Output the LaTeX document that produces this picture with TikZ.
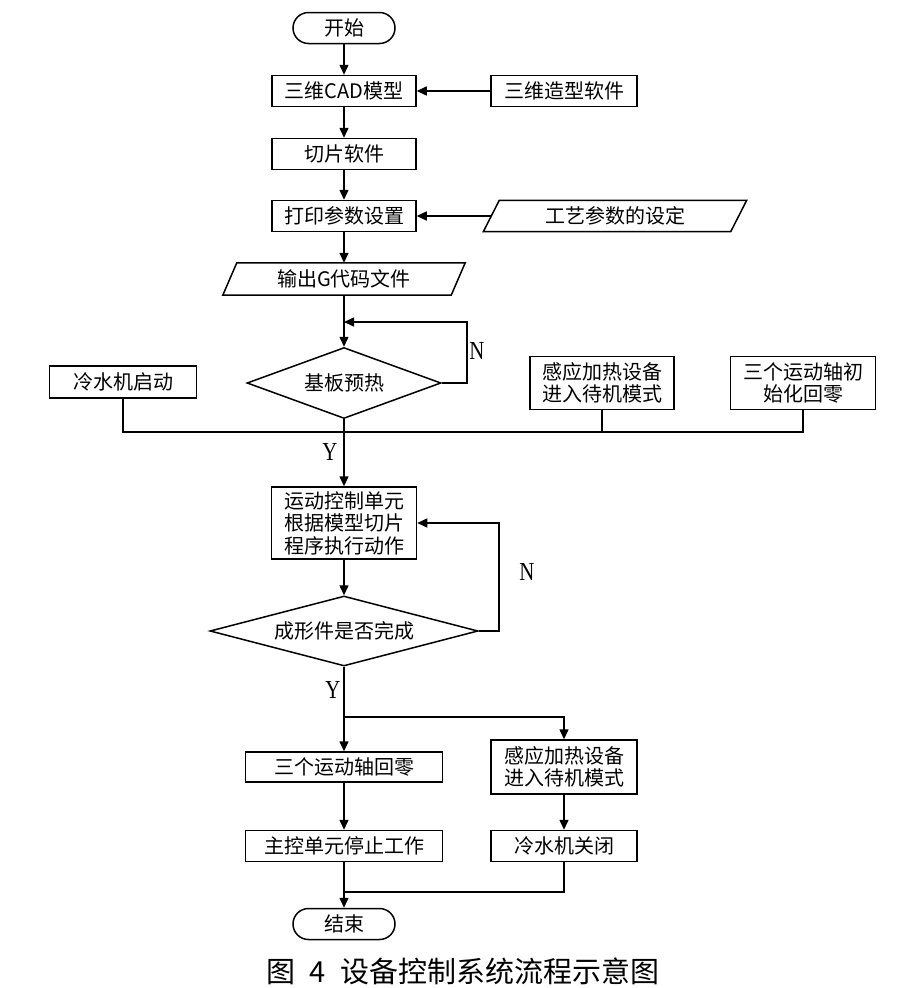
\documentclass[tikz,border=0pt]{standalone}
\usepackage{fontspec}
\usepackage{graphicx}
\newfontfamily\cjk{Noto Sans CJK SC}
\newfontfamily\ser{Liberation Serif}
\usetikzlibrary{arrows.meta,shapes.geometric}
\begin{document}
\begin{tikzpicture}[x=1pt,y=-1pt,
  every node/.style={inner sep=0pt},
  txt/.style={font=\cjk\fontsize{20}{22.5}\selectfont, align=center},
  box/.style={txt, draw, line width=1.5pt, minimum height=31},
  term/.style={txt, draw, line width=1.5pt, rounded corners=15.5, minimum width=102, minimum height=31},
  dec/.style={txt, draw, line width=1.5pt, diamond},
  parbody/.style={txt},
  lbl/.style={font=\ser\fontsize{26}{26}\selectfont},
  line/.style={line width=1.5pt},
  arr/.style={line, -{Triangle[length=10pt,width=9pt]}},
]
\fill[white] (0,0) rectangle (897,988);
\useasboundingbox (0,0) rectangle (897,988);

% nodes
\node[term] (start) at (344,28) {开始};
\node[box, minimum width=144] (cad) at (344,91) {三维CAD模型};
\node[box, minimum width=146] (soft) at (564,91) {三维造型软件};
\node[box, minimum width=144] (slice) at (344,154) {切片软件};
\node[box, minimum width=144] (param) at (344,216) {打印参数设置};
\node[parbody, minimum width=247, minimum height=31] (proc) at (615,216) {工艺参数的设定};
\draw[line] ([xshift=-8pt]proc.south west) -- ([xshift=8pt]proc.north west) -- ([xshift=8pt]proc.north east) -- ([xshift=-8pt]proc.south east) -- cycle;
\node[parbody, minimum width=228, minimum height=32] (gcode) at (344,279) {输出G代码文件};
\draw[line] ([xshift=-7pt]gcode.south west) -- ([xshift=7pt]gcode.north west) -- ([xshift=7pt]gcode.north east) -- ([xshift=-7pt]gcode.south east) -- cycle;

\node[dec, aspect=2.73, minimum width=194, minimum height=71] (heat) at (344,383) {基板预热};
\node[box, minimum width=147, minimum height=32] (coolon) at (123,382) {冷水机启动};
\node[box, minimum width=144, minimum height=53] (ind1) at (602,383) {感应加热设备\\进入待机模式};
\node[box, minimum width=145, minimum height=53] (axes1) at (803,383) {三个运动轴初\\始化回零};

\node[box, minimum width=145, minimum height=72] (motion) at (344,523) {运动控制单元\\根据模型切片\\程序执行动作};
\node[dec, aspect=3.83, minimum width=268, minimum height=70] (done) at (344,631) {成形件是否完成};

\node[box, minimum width=197, minimum height=30] (home) at (344,767) {三个运动轴回零};
\node[box, minimum width=146, minimum height=54] (ind2) at (564,767) {感应加热设备\\进入待机模式};
\node[box, minimum width=197, minimum height=31] (stop) at (344,846) {主控单元停止工作};
\node[box, minimum width=146, minimum height=31] (cooloff) at (564,846) {冷水机关闭};
\node[term] (end) at (344,924) {结束};

% labels
\node[lbl] (n1) at (477,351) {\scalebox{0.8}[1]{N}};
\node[lbl] (y1) at (330,452) {\scalebox{0.8}[1]{Y}};
\node[lbl] (n2) at (527,572) {\scalebox{0.8}[1]{N}};
\node[lbl] (y2) at (333,690) {\scalebox{0.8}[1]{Y}};

% helper coordinates
\coordinate (l1) at (344,322);
\coordinate (l1r) at (467,322);
\coordinate (bus) at (344,432);
\coordinate (l2r) at (499,523);
\coordinate (split) at (344,717);
\coordinate (merge) at (344,892);

% connectors
\draw[arr] (start) -- (cad);
\draw[arr] (soft) -- (cad);
\draw[arr] (cad) -- (slice);
\draw[arr] (slice) -- (param);
\draw[arr] (proc) -- (param);
\draw[arr] (param) -- (gcode);
\draw[arr] (gcode) -- (heat);
\draw[arr] (heat.east) -| (l1r) -- (l1);
\draw[arr] (heat) -- (motion);
\draw[line] (coolon) |- (bus) -| (axes1);
\draw[line] (ind1) -- (ind1 |- bus);
\draw[arr] (motion) -- (done);
\draw[arr] (done.east) -| (l2r) -- (motion.east);
\draw[arr] (done) -- (home);
\draw[arr] (split) -| (ind2);
\draw[arr] (home) -- (stop);
\draw[arr] (ind2) -- (cooloff);
\draw[arr] (stop) -- (end);
\draw[line] (cooloff) |- (merge);

% caption
\node[font=\cjk\fontsize{29}{29}\selectfont] (cap) at (463,971) {图\hspace{14pt}4\hspace{14pt}设备控制系统流程示意图};
\end{tikzpicture}
\end{document}
